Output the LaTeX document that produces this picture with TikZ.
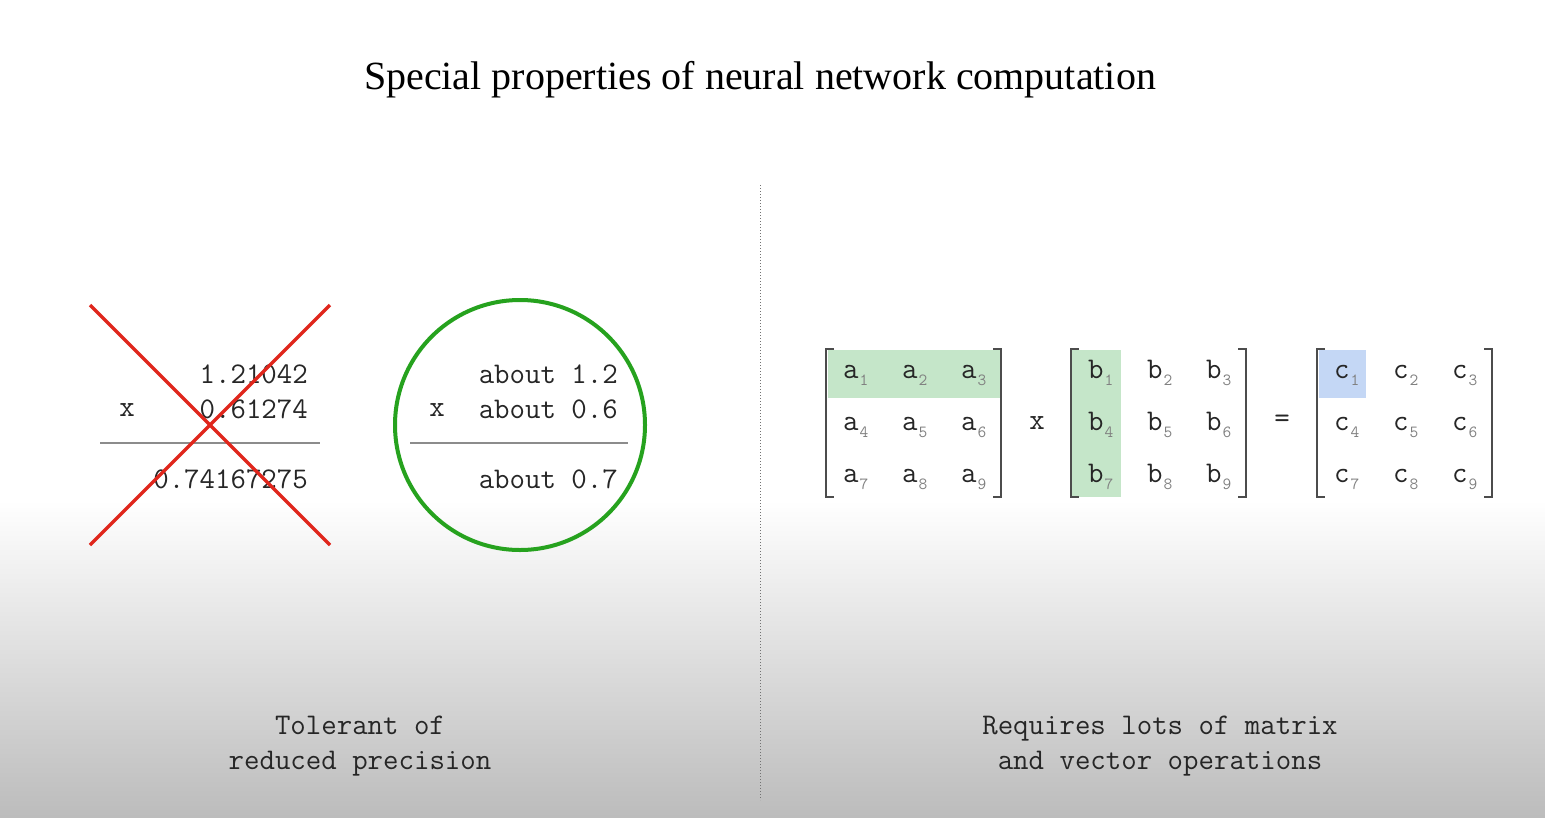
\documentclass[tikz,border=0pt]{standalone}
\usepackage{fontspec}
\setmainfont{Liberation Serif}
\usetikzlibrary{positioning}

\definecolor{crossred}{RGB}{224,38,28}
\definecolor{okgreen}{RGB}{38,162,30}
\definecolor{rowgreen}{RGB}{197,230,201}
\definecolor{cellblue}{RGB}{196,215,245}
\definecolor{bggray}{RGB}{188,188,188}
\newcommand{\sub}[1]{\kern1pt\raisebox{-7pt}{\fontsize{17}{17}\selectfont\color{black!50}#1}}

\begin{document}
\begin{tikzpicture}[x=1pt,y=-1pt,
    mono/.style={font=\ttfamily\fontsize{30}{35}\selectfont, text=black!85, inner sep=0pt},
    num/.style={mono, anchor=base east},
    entry/.style={mono, anchor=base west},
    bracket/.style={draw=black!70, line width=1.5pt},
    sumrule/.style={draw=black!45, line width=1.3pt}]
    % background
    \fill[white] (0,0) rectangle (1545,500);
    \shade[top color=white, bottom color=bggray] (0,500) rectangle (1545,817);
    \useasboundingbox (0,0) rectangle (1545,817);

    \node[font=\fontsize{40}{44}\selectfont] (title) at (760,80) {Special properties of neural network computation};
    \draw[dotted, black!55, line width=1pt] (760,185) -- (760,800);

    % exact product, crossed out
    \node[num] (exa) at (308,383) {1.21042};
    \node[num] (exb) at (308,418) {0.61274};
    \node[mono] (extimes) at (127,410) {x};
    \draw[sumrule] (100,443) -- (320,443);
    \node[num] (exc) at (308,488) {0.74167275};
    \draw[crossred, line width=3.5pt] (90,305) -- (330,545);
    \draw[crossred, line width=3.5pt] (330,305) -- (90,545);

    % rough product, circled
    \node[num] (roa) at (618,383) {about 1.2};
    \node[num] (rob) at (618,418) {about 0.6};
    \node[mono] (rotimes) at (437,410) {x};
    \draw[sumrule] (410,443) -- (628,443);
    \node[num] (roc) at (618,488) {about 0.7};
    \draw[okgreen, line width=4pt] (520,425) circle (125);

    % matrices
    \fill[rowgreen] (828,350) rectangle (1001,398);
    \fill[rowgreen] (1072,350) rectangle (1121,497);
    \fill[cellblue] (1319,350) rectangle (1366,398);
    \foreach \m/\bx in {a/826, b/1071, c/1317}{
      \foreach \r in {0,1,2}{
        \foreach \c in {0,1,2}{
          \pgfmathtruncatemacro\k{3*\r+\c+1}
          \node[entry] (\m\k) at (\bx+17+59*\c, 378+52*\r) {\m\sub{\k}};
        }
      }
      \draw[bracket] (\bx+8,349) -- (\bx,349) -- (\bx,497) -- (\bx+8,497);
      \draw[bracket] (\bx+167,349) -- (\bx+175,349) -- (\bx+175,497) -- (\bx+167,497);
    }
    \node[mono] (mtimes) at (1037,423) {x};
    \node[mono] (mequals) at (1282,421) {=};

    % captions
    \node[mono, align=center] (tolerant) at (360,746) {Tolerant of\\reduced precision};
    \node[mono, align=center] (requires) at (1160,746) {Requires lots of matrix\\and vector operations};
\end{tikzpicture}
\end{document}
